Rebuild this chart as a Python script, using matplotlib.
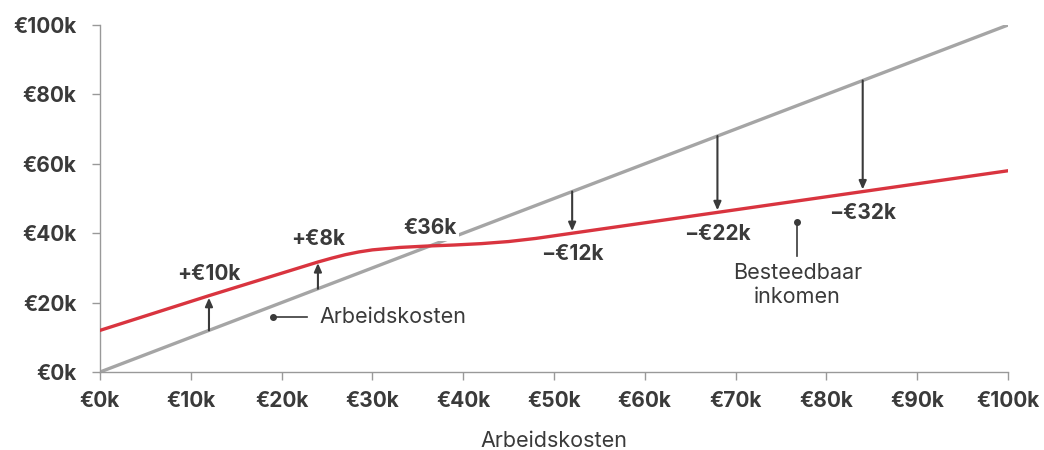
import matplotlib.pyplot as plt

# Arbeidskosten (k€) en besteedbaar inkomen (k€)
kosten = [0, 100]
inkomen_x = [0, 12, 24, 25.5, 27, 28.5, 30, 33, 36, 39, 42, 45, 48, 52, 68, 84, 100]
inkomen_y = [12, 22, 31.7, 32.8, 33.8, 34.6, 35.2, 35.9, 36.3, 36.6, 37.0, 37.6, 38.5, 40, 46, 52, 58]

# pijlen: (x, van, naar, label)
pijl_x = [12, 24, 52, 68, 84]
pijl_van = [12, 24, 52, 68, 84]
pijl_naar = [22, 32, 40, 46, 52]
pijl_labels = ['+€10k', '+€8k', '−€12k', '−€22k', '−€32k']

ticks = list(range(0, 101, 10))
yticks = list(range(0, 101, 20))

plt.rcParams['font.family'] = ['Inter', 'DejaVu Sans']
donker = '#3a3a3a'
rood = '#d9343f'
grijs = '#a5a5a5'

fig = plt.figure(figsize=(10.44, 4.5), dpi=100)
ax = fig.add_axes([0.0958, 0.1733, 0.8697, 0.7711])

ax.plot(kosten, kosten, color=grijs, lw=2.4, zorder=2, solid_capstyle='butt')
ax.plot(inkomen_x, inkomen_y, color=rood, lw=2.4, zorder=4, solid_joinstyle='round')

for x, a, b, lab in zip(pijl_x, pijl_van, pijl_naar, pijl_labels):
    ax.annotate('', xy=(x, b), xytext=(x, a),
                arrowprops=dict(arrowstyle='-|>,head_length=0.5,head_width=0.22',
                                color=donker, lw=1.5, shrinkA=0, shrinkB=1.5),
                zorder=5)
    dy = 6.2 if b > a else -6.1
    ax.text(x, b + dy, lab, ha='center', va='center', fontsize=15,
            fontweight='bold', color=donker)

ax.text(36.3, 41.5, '€36k', ha='center', va='center', fontsize=15,
        fontweight='bold', color=donker, zorder=3,
        bbox=dict(facecolor='white', edgecolor='none', pad=2))

# lijnlabels
ax.plot([19, 22.8], [15.8, 15.8], color=donker, lw=1.2, zorder=5)
ax.plot([19], [15.8], 'o', color=donker, ms=4, zorder=5)
ax.text(24.2, 15.8, 'Arbeidskosten', ha='left', va='center', fontsize=15.5,
        color=donker)

ax.plot([76.8, 76.8], [43.2, 33.4], color=donker, lw=1.2, zorder=5)
ax.plot([76.8], [43.2], 'o', color=donker, ms=4, zorder=5)
ax.text(76.8, 25.1, 'Besteedbaar\ninkomen', ha='center', va='center', fontsize=15.5,
        color=donker, linespacing=1.2)

ax.set_xlim(0, 100)
ax.set_ylim(0, 100)
ax.set_xticks(ticks)
ax.set_xticklabels([f'€{t}k' for t in ticks])
ax.set_yticks(yticks)
ax.set_yticklabels([f'€{t}k' for t in yticks])
for lab in ax.get_xticklabels() + ax.get_yticklabels():
    lab.set_fontweight('bold')
ax.tick_params(colors='#999999', labelcolor=donker, labelsize=15, length=6,
               width=1)
ax.tick_params(axis='x', pad=8)
ax.tick_params(axis='y', pad=11)
ax.set_xlabel('Arbeidskosten', fontsize=15.5, color=donker, labelpad=14)

for s in ['top', 'right']:
    ax.spines[s].set_visible(False)
for s in ['left', 'bottom']:
    ax.spines[s].set_color('#999999')
    ax.spines[s].set_linewidth(1)

fig.savefig('out.png', dpi=100)
